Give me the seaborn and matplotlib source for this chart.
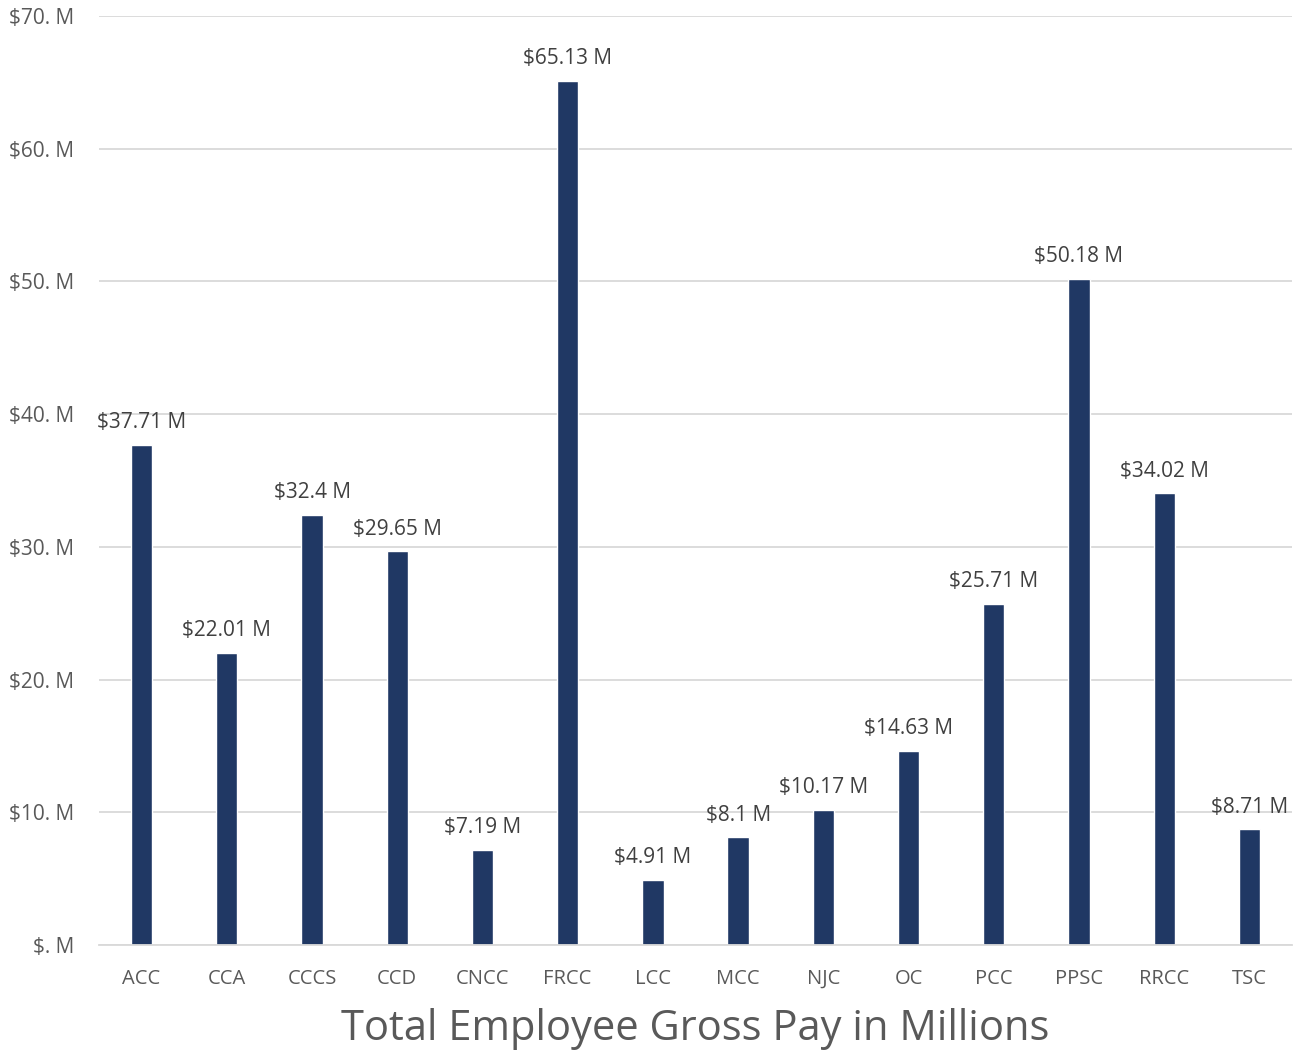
import pandas as pd
import seaborn as sb
import matplotlib.pyplot as plt

colleges = ["ACC", "CCA", "CCCS", "CCD", "CNCC", "FRCC", "LCC", "MCC",
            "NJC", "OC", "PCC", "PPSC", "RRCC", "TSC"]
gross_pay = [37.71, 22.01, 32.4, 29.65, 7.19, 65.13, 4.91, 8.1,
             10.17, 14.63, 25.71, 50.18, 34.02, 8.71]
y_ticks = [0, 10, 20, 30, 40, 50, 60, 70]
y_tick_labels = ["$. M", "$10. M", "$20. M", "$30. M", "$40. M",
                 "$50. M", "$60. M", "$70. M"]
title = "Total Employee Gross Pay in Millions"

BAR = "#203864"
TXT = "#595959"
GRID = "#d9d9d9"

sb.set_theme(style="white")
plt.rcParams["font.family"] = ["Open Sans", "DejaVu Sans"]

df = pd.DataFrame({"college": colleges, "pay": gross_pay})

fig = plt.figure(figsize=(13.04, 10.53), dpi=100)
ax = fig.add_axes([0.0759, 0.1026, 0.9149, 0.8822])

sb.barplot(data=df, x="college", y="pay", color=BAR, width=0.25,
           saturation=1, ax=ax)

for i, v in enumerate(gross_pay):
    ax.annotate(f"${v:g} M", (i, v), xytext=(0, 16), textcoords="offset points",
                ha="center", va="center", fontsize=15, color="#404040")

ax.set_ylim(0, 70)
ax.set_xlim(-0.5, len(colleges) - 0.5)
ax.set_yticks(y_ticks)
ax.set_yticklabels(y_tick_labels)
ax.yaxis.grid(True, color=GRID, linewidth=1.3)
ax.set_axisbelow(True)
for s in ["top", "right", "left"]:
    ax.spines[s].set_visible(False)
ax.spines["bottom"].set_color(GRID)
ax.spines["bottom"].set_linewidth(1.3)
ax.tick_params(axis="y", length=0, labelsize=15, labelcolor=TXT, pad=18)
ax.tick_params(axis="x", length=0, labelsize=14.5, labelcolor=TXT, pad=17)
ax.set_xlabel(title, fontsize=30, color=TXT, labelpad=14)
ax.set_ylabel("")

plt.savefig("out.png", dpi=100)
